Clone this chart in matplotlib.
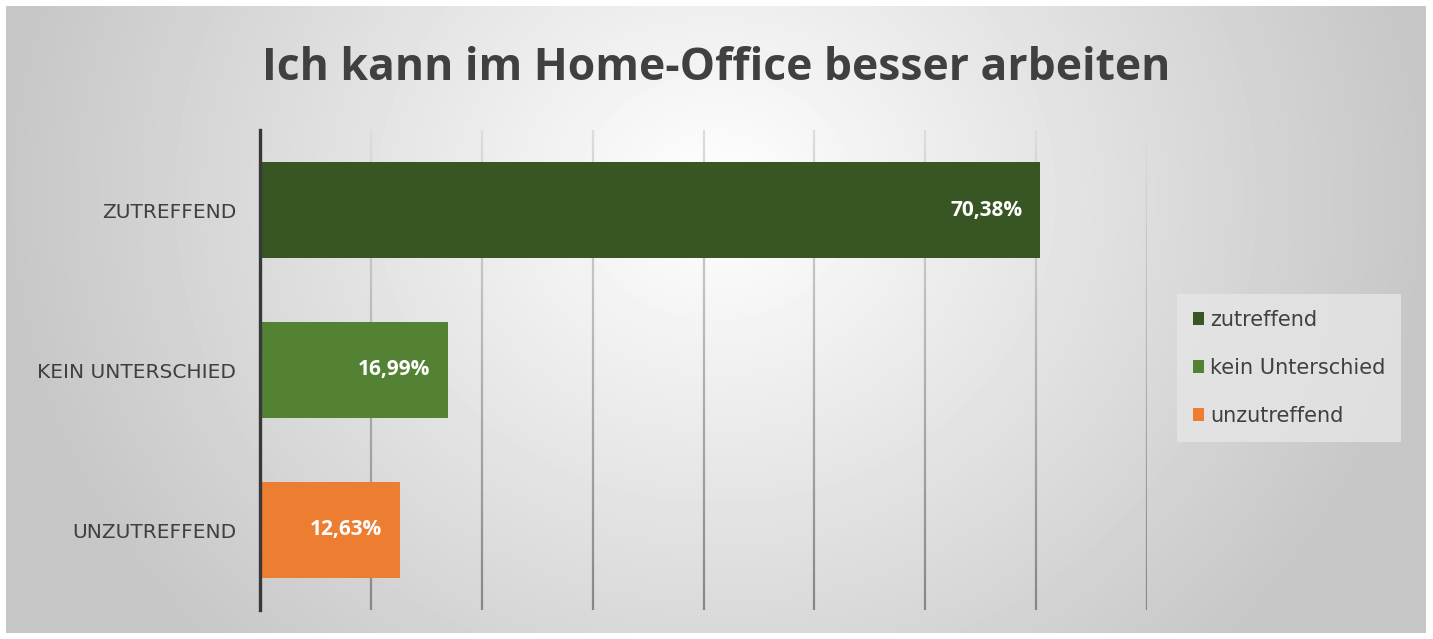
import numpy as np
import matplotlib.pyplot as plt
from matplotlib.collections import LineCollection
from matplotlib.patches import Patch

categories = ['ZUTREFFEND', 'KEIN UNTERSCHIED', 'UNZUTREFFEND']
legend_labels = ['zutreffend', 'kein Unterschied', 'unzutreffend']
values = [70.38, 16.99, 12.63]
value_labels = ['70,38%', '16,99%', '12,63%']
colors = ['#375623', '#548235', '#ED7D31']
title = 'Ich kann im Home-Office besser arbeiten'

W, H = 1433, 639
fig = plt.figure(figsize=(W / 100, H / 100), dpi=100)
fig.patch.set_facecolor('white')

# radial grey background like the Excel chart area
bg = fig.add_axes([6 / W, 6 / H, 1420 / W, 627 / H])
gx, gy = np.meshgrid(np.linspace(0, 1420, 400), np.linspace(0, 627, 200))
r = np.sqrt(((gx - 710) / 710) ** 2 + ((gy - 190) / 640) ** 2)
shade = 1 - 0.22 * np.clip(r, 0, 1)
bg.imshow(shade, cmap='gray', vmin=0, vmax=1, aspect='auto',
          extent=[0, 1, 1, 0], interpolation='bilinear')
bg.set_axis_off()

ax = fig.add_axes([260 / W, (H - 610) / H, (1147 - 260) / W, 480 / H])
ax.patch.set_alpha(0)
ax.set_xlim(0, 80)
ax.set_ylim(2.5, -0.5)

# gridlines fading from light (top) to darker (bottom)
n = 40
ys = np.linspace(-0.5, 2.5, n + 1)
for gxv in range(10, 81, 10):
    segs = [[(gxv, ys[i]), (gxv, ys[i + 1])] for i in range(n)]
    cols = [plt.cm.gray(0.86 - 0.34 * (i / n)) for i in range(n)]
    ax.add_collection(LineCollection(segs, colors=cols, linewidths=1.6, zorder=1))

y = np.arange(len(categories))
ax.barh(y, values, height=0.6, color=colors, zorder=2)

for yi, v, lab in zip(y, values, value_labels):
    ax.text(v - 1.6, yi, lab, ha='right', va='center', color='white',
            fontsize=15, fontweight='bold', family='Open Sans', zorder=3)

ax.set_yticks(y)
ax.set_yticklabels(categories, fontsize=14.5, color='#404040', family='DejaVu Sans')
ax.tick_params(axis='y', length=0, pad=17)
ax.set_xticks([])
for s in ['top', 'right', 'bottom']:
    ax.spines[s].set_visible(False)
ax.spines['left'].set_color('#383838')
ax.spines['left'].set_linewidth(2.4)
ax.spines['left'].set_zorder(4)

fig.text(716 / W, 1 - 68 / H, title, ha='center', va='center', fontsize=32,
         fontweight='bold', color='#404040', family='Open Sans')

handles = [Patch(facecolor=c) for c in colors]
leg = fig.legend(handles, legend_labels, loc='center left',
                 bbox_to_anchor=(1177 / W, 1 - 368 / H), frameon=True,
                 labelcolor='#404040', handlelength=0.55,
                 handleheight=0.55, handletextpad=0.3, labelspacing=1.35,
                 borderpad=0.75, borderaxespad=0, fancybox=False,
                 prop={'family': 'DejaVu Sans', 'size': 15})
leg.get_frame().set_facecolor('#e6e6e6')
leg.get_frame().set_edgecolor('none')
leg.get_frame().set_alpha(0.8)

fig.savefig('out.png', dpi=100)
